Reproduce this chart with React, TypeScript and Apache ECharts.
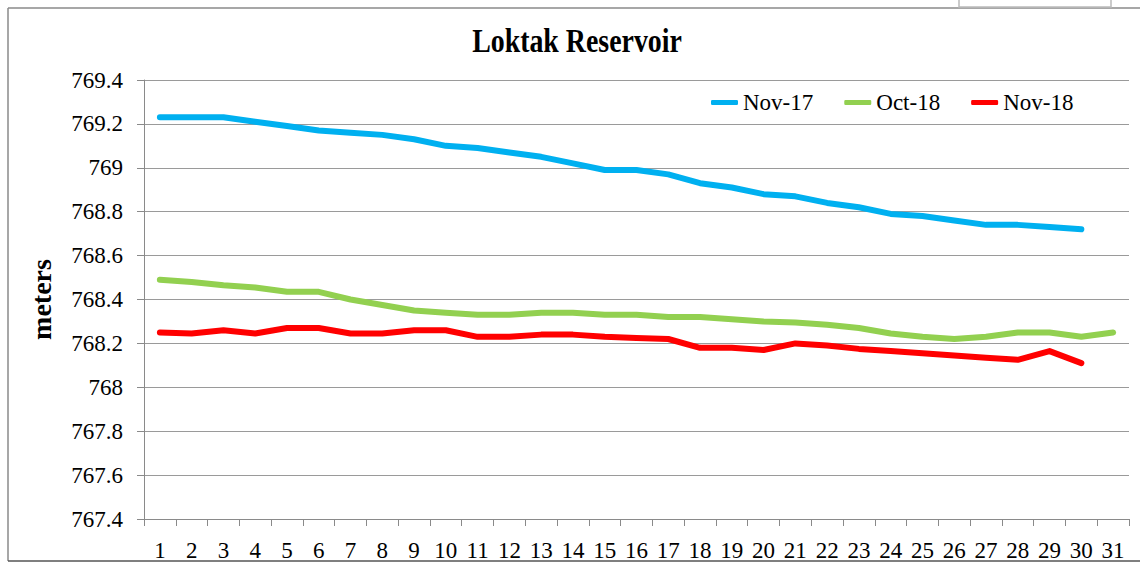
import React, { useEffect, useRef } from "react";
import * as echarts from "echarts";

const days: string[] = Array.from({ length: 31 }, (_, i) => String(i + 1));

const nov17: number[] = [
  769.23, 769.23, 769.23, 769.21, 769.19, 769.17, 769.16, 769.15, 769.13, 769.1,
  769.09, 769.07, 769.05, 769.02, 768.99, 768.99, 768.97, 768.93, 768.91, 768.88,
  768.87, 768.84, 768.82, 768.79, 768.78, 768.76, 768.74, 768.74, 768.73, 768.72,
];

const oct18: number[] = [
  768.49, 768.48, 768.465, 768.455, 768.435, 768.435, 768.4, 768.375, 768.35, 768.34,
  768.33, 768.33, 768.34, 768.34, 768.33, 768.33, 768.32, 768.32, 768.31, 768.3,
  768.295, 768.285, 768.27, 768.245, 768.23, 768.22, 768.23, 768.25, 768.25, 768.23,
  768.25,
];

const nov18: number[] = [
  768.25, 768.245, 768.26, 768.245, 768.27, 768.27, 768.245, 768.245, 768.26, 768.26,
  768.23, 768.23, 768.24, 768.24, 768.23, 768.225, 768.22, 768.18, 768.18, 768.17,
  768.2, 768.19, 768.175, 768.165, 768.155, 768.145, 768.135, 768.125, 768.165, 768.11,
];

const seriesNames: string[] = ["Nov-17", "Oct-18", "Nov-18"];
const seriesColors: string[] = ["#00B0F0", "#92D050", "#FF0000"];

const FONT = "Liberation Serif";

export default function App() {
  const ref = useRef<HTMLDivElement>(null);

  useEffect(() => {
    if (!ref.current) return;
    const chart = echarts.init(ref.current, null, { renderer: "svg" });
    const dataSets = [nov17, oct18, nov18];
    chart.setOption({
      animation: false,
      backgroundColor: "#ffffff",
      textStyle: { fontFamily: FONT },
      grid: { left: 144, right: 11, top: 80, bottom: 43, containLabel: false },
      graphic: [
        { type: "line", shape: { x1: 8, y1: 8, x2: 1140, y2: 8 }, style: { stroke: "#8a8a8a", lineWidth: 1.5 } },
        { type: "line", shape: { x1: 8, y1: 8, x2: 8, y2: 561 }, style: { stroke: "#8a8a8a", lineWidth: 1.5 } },
        { type: "line", shape: { x1: 8, y1: 561, x2: 1140, y2: 561 }, style: { stroke: "#555555", lineWidth: 1.5 } },
        { type: "rect", shape: { x: 959, y: -3, width: 152, height: 10 }, style: { fill: "#ffffff", stroke: "#bbbbbb", lineWidth: 1.5 } },
        {
          type: "text",
          x: 577,
          y: 41,
          scaleX: 0.82,
          style: {
            text: "Loktak Reservoir",
            font: "bold 34px Liberation Serif",
            fill: "#000000",
            textAlign: "center",
            textVerticalAlign: "middle",
          },
        },
      ],
      legend: {
        left: 706,
        top: 86,
        itemGap: 31,
        icon: "roundRect",
        itemWidth: 27,
        itemHeight: 5,
        data: seriesNames,
        textStyle: { fontFamily: FONT, fontSize: 23, color: "#000000" },
      },
      xAxis: {
        type: "category",
        data: days,
        boundaryGap: true,
        axisLine: { lineStyle: { color: "#8a8a8a", width: 1 } },
        axisTick: { show: true, length: 7, alignWithLabel: false, lineStyle: { color: "#8a8a8a" } },
        axisLabel: { fontFamily: FONT, fontSize: 23, color: "#000000", margin: 20, interval: 0 },
        splitLine: { show: false },
      },
      yAxis: {
        type: "value",
        min: 767.4,
        max: 769.4,
        interval: 0.2,
        name: "meters",
        nameLocation: "middle",
        nameRotate: 90,
        nameGap: 89,
        nameTextStyle: { fontFamily: FONT, fontSize: 28, fontWeight: "bold", color: "#000000" },
        axisLine: { show: true, lineStyle: { color: "#8a8a8a", width: 1 } },
        axisTick: { show: true, length: 7, inside: false, lineStyle: { color: "#8a8a8a" } },
        axisLabel: {
          fontFamily: FONT,
          fontSize: 23,
          color: "#000000",
          margin: 21,
          formatter: (v: number) => String(Math.round(v * 10) / 10),
        },
        splitLine: { show: true, lineStyle: { color: "#9a9a9a", width: 1 } },
      },
      series: seriesNames.map((name, i) => ({
        name,
        type: "line",
        data: dataSets[i],
        showSymbol: false,
        symbol: "none",
        color: seriesColors[i],
        lineStyle: { width: 6, color: seriesColors[i], cap: "round", join: "round" },
      })),
    });
    return () => chart.dispose();
  }, []);

  return (
    <div
      ref={ref}
      style={{ position: "absolute", left: 0, top: 0, width: 1140, height: 562 }}
    />
  );
}
